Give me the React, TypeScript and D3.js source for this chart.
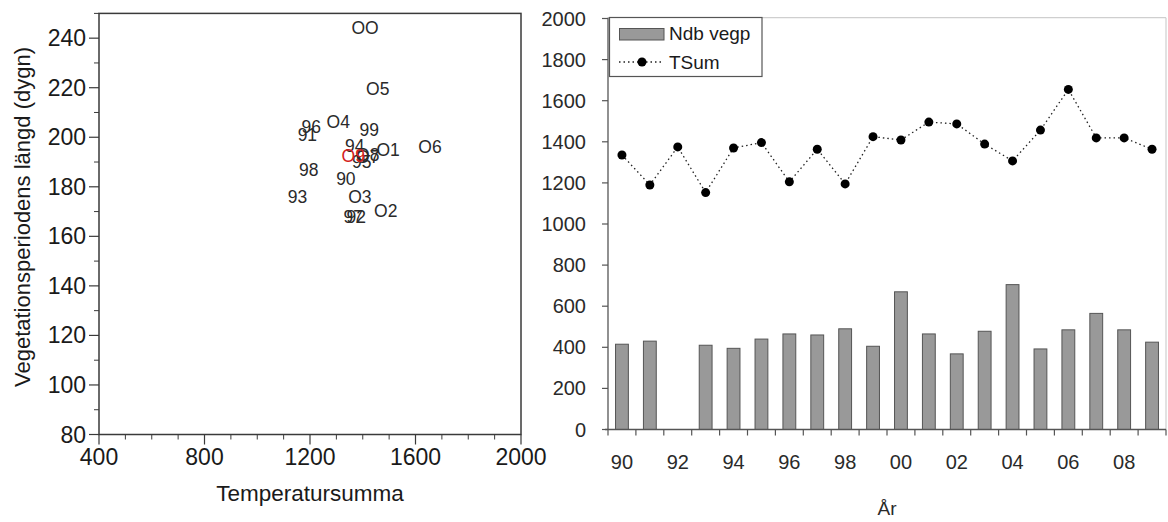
import React from "react";
import * as d3 from "d3";

// ---- Data ----
const years = ["90","91","92","93","94","95","96","97","98","99","00","01","02","03","04","05","06","07","08","09"];
const ndbVegp: (number | null)[] = [415, 430, null, 410, 395, 440, 465, 460, 490, 405, 670, 465, 368, 478, 705, 392, 485, 565, 485, 425];
const tSum = [1336, 1190, 1375, 1153, 1370, 1396, 1205, 1364, 1195, 1425, 1409, 1496, 1487, 1389, 1307, 1457, 1655, 1419, 1419, 1364];
const vegDays = [183, 201, 168, 176, 196.6, 190, 204.3, 168, 186.8, 203, 244, 195, 170.4, 176, 206, 219.4, 196.2, 192, 193, 192.5];
const scatterLabels = ["90","91","92","93","94","95","96","97","98","99","OO","O1","O2","O3","O4","O5","O6","O7","O8","O9"];
const highlightLabel = "O9";
const leftXTicks = [400, 800, 1200, 1600, 2000];
const leftYTicks = [80, 100, 120, 140, 160, 180, 200, 220, 240];
const rightYTicks = [0, 200, 400, 600, 800, 1000, 1200, 1400, 1600, 1800, 2000];
const rightXLabels = ["90","92","94","96","98","00","02","04","06","08"];

const FONT = "'Liberation Sans', Arial, Helvetica, sans-serif";

export default function App() {
  // Left scatter
  const lx = d3.scaleLinear().domain([400, 2000]).range([99, 521]);
  const ly = d3.scaleLinear().domain([80, 250]).range([434.5, 13.4]);
  const xMinor = d3.range(400, 2001, 100).filter((v) => !leftXTicks.includes(v));
  const yMinor = d3.range(90, 251, 10).filter((v) => !leftYTicks.includes(v));

  // Right chart
  const rx = d3.scaleBand<string>().domain(years).range([608, 1166]).padding(0);
  const ry = d3.scaleLinear().domain([0, 2000]).range([429.5, 18.5]);
  const step = rx.step();
  const barW = step * 0.46;
  const lineGen = d3
    .line<number>()
    .x((_, i) => (rx(years[i]) as number) + step / 2)
    .y((d) => ry(d));

  return (
    <svg width={1168} height={522} style={{ position: "absolute", left: 0, top: 0, background: "#fff" }} fontFamily={FONT}>
      <rect x={0} y={0} width={1168} height={522} fill="#fff" />
      {/* ===== Left scatter ===== */}
      <rect x={lx(400)} y={ly(250)} width={lx(2000) - lx(400)} height={ly(80) - ly(250)} fill="none" stroke="#3a3a3a" strokeWidth={1.5} />
      {leftXTicks.map((t) => (
        <g key={"lxt" + t}>
          <line x1={lx(t)} x2={lx(t)} y1={ly(80)} y2={ly(80) + 10} stroke="#3a3a3a" strokeWidth={1.2} />
          <text x={lx(t)} y={465} textAnchor="middle" fontSize={23} fill="#1a1a1a">{t}</text>
        </g>
      ))}
      {xMinor.map((t) => (
        <line key={"lxm" + t} x1={lx(t)} x2={lx(t)} y1={ly(80)} y2={ly(80) + 5} stroke="#3a3a3a" strokeWidth={1} />
      ))}
      {leftYTicks.map((t) => (
        <g key={"lyt" + t}>
          <line x1={lx(400) - 10} x2={lx(400)} y1={ly(t)} y2={ly(t)} stroke="#3a3a3a" strokeWidth={1.2} />
          <text x={86} y={ly(t) + 8} textAnchor="end" fontSize={23} fill="#1a1a1a">{t}</text>
        </g>
      ))}
      {yMinor.map((t) => (
        <line key={"lym" + t} x1={lx(400) - 5} x2={lx(400)} y1={ly(t)} y2={ly(t)} stroke="#3a3a3a" strokeWidth={1} />
      ))}
      <text x={310} y={501} textAnchor="middle" fontSize={22.5} fill="#1a1a1a">Temperatursumma</text>
      <text transform="translate(30,217) rotate(-90)" textAnchor="middle" fontSize={22} fill="#1a1a1a">
        Vegetationsperiodens längd (dygn)
      </text>
      {scatterLabels.map((lab, i) => (
        <text
          key={"sl" + i}
          x={lx(tSum[i])}
          y={ly(vegDays[i]) + 6}
          textAnchor="middle"
          fontSize={17.5}
          fill={lab === highlightLabel ? "#d42020" : "#2a2a2a"}
        >
          {lab}
        </text>
      ))}

      {/* ===== Right chart ===== */}
      <line x1={608} x2={1166} y1={17.7} y2={17.7} stroke="#cfcfcf" strokeWidth={1.2} />
      <line x1={1166} x2={1166} y1={17.7} y2={ry(0)} stroke="#cfcfcf" strokeWidth={1.2} />
      {ndbVegp.map((v, i) =>
        v == null ? null : (
          <rect
            key={"bar" + i}
            x={(rx(years[i]) as number) + step / 2 - barW / 2}
            y={ry(v)}
            width={barW}
            height={ry(0) - ry(v)}
            fill="#999999"
            stroke="#555555"
            strokeWidth={1}
          />
        )
      )}
      <path d={lineGen(tSum) || ""} fill="none" stroke="#222" strokeWidth={1.3} strokeDasharray="1.5,3" />
      {tSum.map((v, i) => (
        <circle key={"pt" + i} cx={(rx(years[i]) as number) + step / 2} cy={ry(v)} r={4.5} fill="#000" />
      ))}
      <line x1={608} x2={608} y1={17.7} y2={ry(0)} stroke="#555" strokeWidth={1.3} />
      <line x1={605} x2={1166} y1={ry(0)} y2={ry(0)} stroke="#555" strokeWidth={1.3} />
      {rightYTicks.map((t) => (
        <g key={"ryt" + t}>
          <line x1={602} x2={608} y1={ry(t)} y2={ry(t)} stroke="#555" strokeWidth={1.2} />
          <text x={586} y={ry(t) + 7} textAnchor="end" fontSize={20} fill="#2a2a2a">{t}</text>
        </g>
      ))}
      {d3.range(0, years.length + 1).map((i) => (
        <line key={"rxt" + i} x1={608 + i * step} x2={608 + i * step} y1={ry(0)} y2={ry(0) + 6} stroke="#555" strokeWidth={1.2} />
      ))}
      {rightXLabels.map((lab) => (
        <text key={"rxl" + lab} x={(rx(lab) as number) + step / 2} y={469} textAnchor="middle" fontSize={20} fill="#2a2a2a">
          {lab}
        </text>
      ))}
      <text x={887} y={515} textAnchor="middle" fontSize={19} fill="#2a2a2a">År</text>

      {/* Legend */}
      <rect x={609.5} y={17.5} width={152.5} height={59} fill="#fff" stroke="#555" strokeWidth={1.2} />
      <rect x={619.5} y={28.5} width={44.5} height={11.5} fill="#999999" stroke="#555" strokeWidth={1} />
      <text x={669} y={40} fontSize={19} fill="#1a1a1a">Ndb vegp</text>
      <line x1={619} x2={664} y1={62} y2={62} stroke="#222" strokeWidth={1.3} strokeDasharray="1.5,3" />
      <circle cx={642} cy={62} r={4.5} fill="#000" />
      <text x={669} y={69} fontSize={19} fill="#1a1a1a">TSum</text>
    </svg>
  );
}
